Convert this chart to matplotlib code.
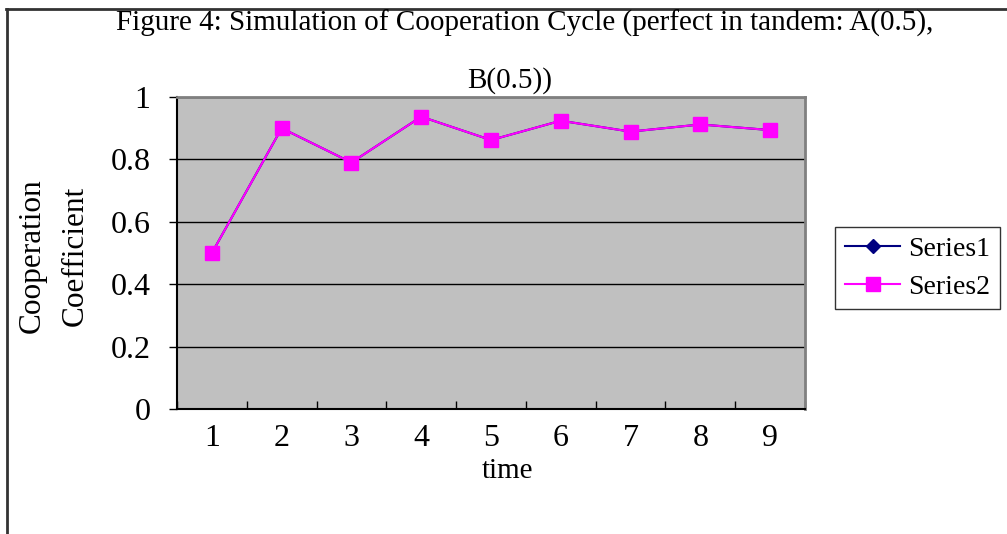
import matplotlib
matplotlib.use("Agg")
import matplotlib.pyplot as plt
from matplotlib.lines import Line2D

# data
time_labels = ["1", "2", "3", "4", "5", "6", "7", "8", "9"]
series1 = [0.50, 0.90, 0.79, 0.937, 0.862, 0.924, 0.889, 0.912, 0.894]
series2 = [0.50, 0.90, 0.79, 0.937, 0.862, 0.924, 0.889, 0.912, 0.894]
y_ticks = [0, 0.2, 0.4, 0.6, 0.8, 1.0]
y_tick_labels = ["0", "0.2", "0.4", "0.6", "0.8", "1"]

plt.rcParams['font.family'] = ['Liberation Serif', 'DejaVu Serif']

W, H = 1007, 534
fig = plt.figure(figsize=(W / 100, H / 100), dpi=100)
fig.patch.set_facecolor('white')

# outer chart frame (left and top edges visible, rest cut off)
fig.add_artist(Line2D([6.5 / W, 6.5 / W], [0, 1 - 9 / H], color='#333333', lw=2,
                      transform=fig.transFigure))
fig.add_artist(Line2D([6 / W, 1], [1 - 9 / H, 1 - 9 / H], color='#333333', lw=2,
                      transform=fig.transFigure))

left, right, top, bottom = 177, 805, 97, 409
ax = fig.add_axes([left / W, 1 - bottom / H, (right - left) / W, (bottom - top) / H])
ax.set_facecolor('#c0c0c0')

x = list(range(len(time_labels)))
ax.plot(x, series1, color='#000080', marker='D', markersize=7, lw=1.5, label='Series1')
ax.plot(x, series2, color='#ff00ff', marker='s', markersize=10, lw=1.5, label='Series2')

ax.set_xlim(-0.5, len(time_labels) - 0.5)
ax.set_ylim(0, 1)
ax.set_yticks(y_ticks)
ax.set_yticklabels(y_tick_labels, fontsize=23)
ax.yaxis.grid(True, color='black', lw=1)
ax.set_axisbelow(True)
ax.tick_params(axis='y', direction='out', length=6, width=1, pad=13)

ax.set_xticks(x)
ax.set_xticklabels(time_labels, fontsize=23)
ax.set_xticks([i - 0.5 for i in range(len(time_labels) + 1)], minor=True)
ax.tick_params(axis='x', which='major', length=0, pad=11)
ax.tick_params(axis='x', which='minor', direction='in', length=6, width=1)

for s in ['left', 'bottom']:
    ax.spines[s].set_color('black')
    ax.spines[s].set_linewidth(1.5)
for s in ['top', 'right']:
    ax.spines[s].set_color('#808080')
    ax.spines[s].set_linewidth(2)

fig.text(507 / W, 1 - 471 / H, 'time', fontsize=21, ha='center', va='center')
fig.text(32 / W, 1 - 256 / H, 'Cooperation', fontsize=22.5, rotation=90,
         ha='center', va='center')
fig.text(75 / W, 1 - 256 / H, 'Coefficient', fontsize=22.5, rotation=90,
         ha='center', va='center')

fig.text(525 / W, 1 - 23 / H,
         'Figure 4: Simulation of Cooperation Cycle (perfect in tandem: A(0.5),',
         fontsize=21, ha='center', va='center')
fig.text(510 / W, 1 - 81 / H, 'B(0.5))', fontsize=21, ha='center', va='center')

leg = fig.legend(loc='center left', bbox_to_anchor=(835 / W, 1 - 268 / H),
                 fontsize=20, frameon=True, fancybox=False, borderpad=0.35,
                 handlelength=2.0, handletextpad=0.3, labelspacing=0.45,
                 borderaxespad=0)
leg.get_frame().set_edgecolor('black')
leg.get_frame().set_linewidth(1)

fig.savefig('out.png', dpi=100)
